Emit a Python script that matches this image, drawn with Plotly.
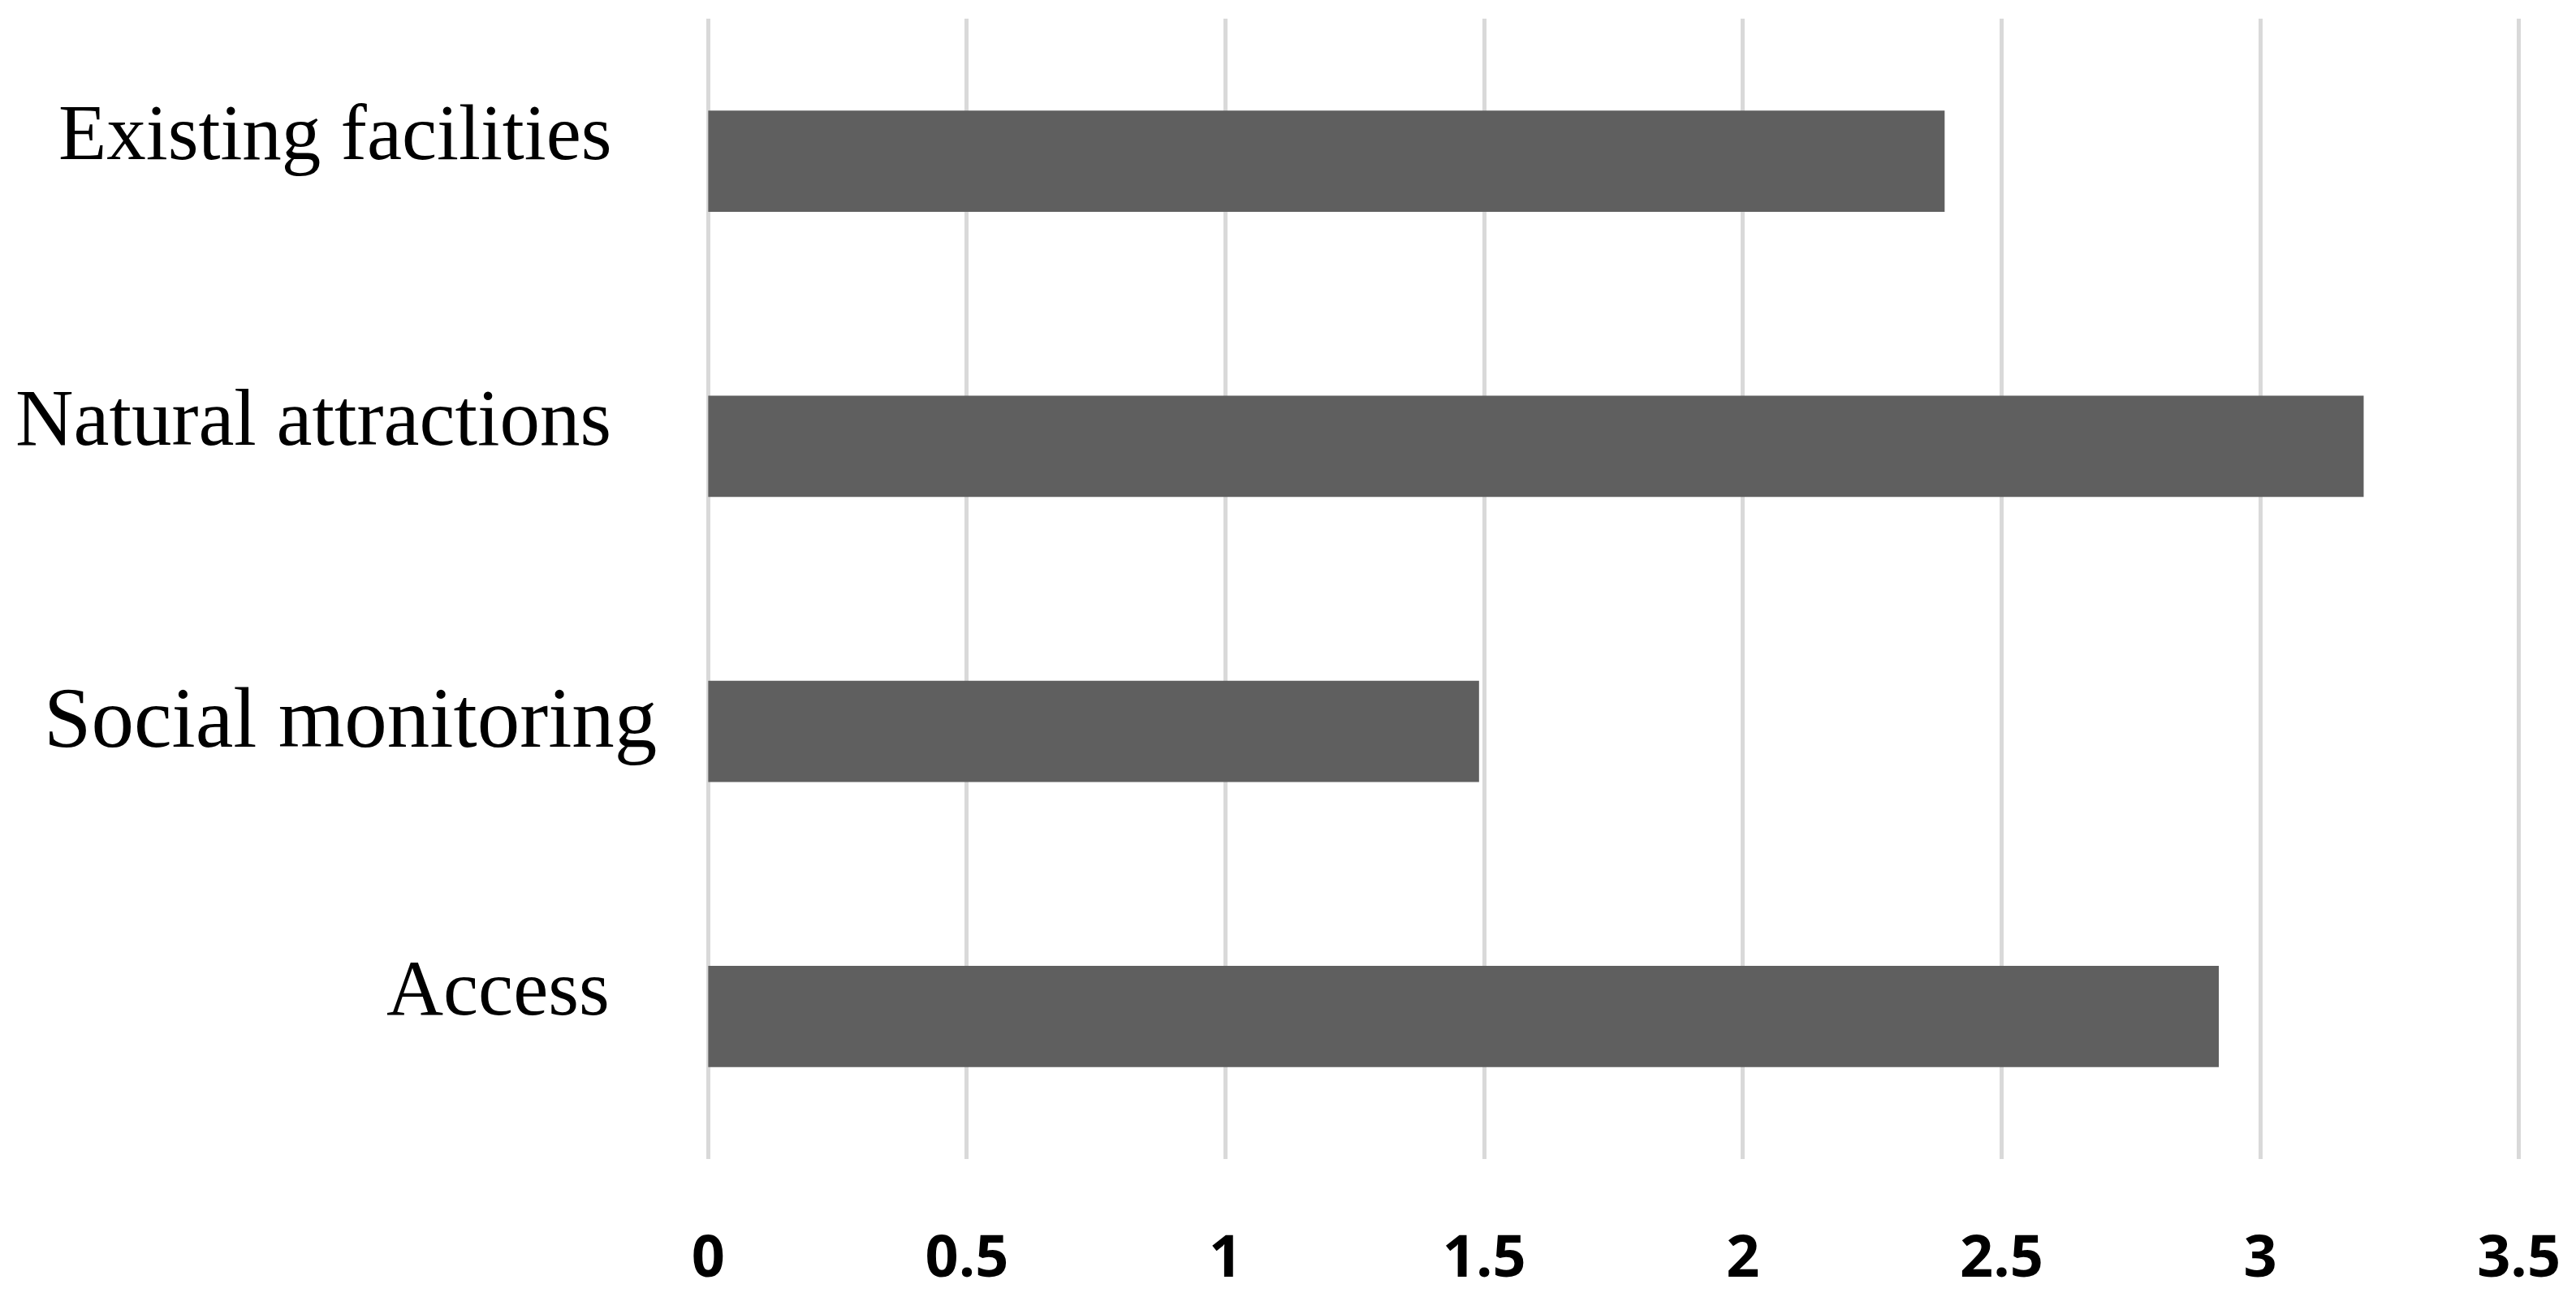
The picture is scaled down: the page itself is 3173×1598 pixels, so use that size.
import plotly.graph_objects as go

categories = ["Existing facilities", "Natural attractions", "Social monitoring", "Access"]
values = [2.39, 3.2, 1.49, 2.92]
tick_vals = [0, 0.5, 1, 1.5, 2, 2.5, 3, 3.5]
tick_text = ["0", "0.5", "1", "1.5", "2", "2.5", "3", "3.5"]

W, H = 3173, 1598

fig = go.Figure()
fig.add_trace(go.Bar(
    x=values, y=categories, orientation="h",
    marker=dict(color="#5f5f5f", line=dict(width=0)),
    showlegend=False,
))

# per-label style (size, horizontal shift, vertical shift)
label_style = {
    "Existing facilities": dict(size=97, xshift=-110, yshift=35),
    "Natural attractions": dict(size=99, xshift=-111, yshift=35),
    "Social monitoring": dict(size=105, xshift=-55, yshift=17),
    "Access": dict(size=97, xshift=-113, yshift=35),
}
for c in categories:
    s = label_style[c]
    fig.add_annotation(
        x=0, xref="paper", y=c, yref="y", text=c, showarrow=False,
        xanchor="right", yanchor="middle", xshift=s["xshift"], yshift=s["yshift"],
        font=dict(family="Liberation Serif", size=s["size"], color="black"),
    )

fig.update_layout(
    width=W, height=H,
    margin=dict(l=858, r=72, t=15, b=164),
    paper_bgcolor="white", plot_bgcolor="white",
    bargap=0.645,
    xaxis=dict(
        range=[-0.01, 3.51], tickvals=tick_vals, ticktext=tick_text,
        showgrid=True, gridcolor="#d9d9d9", gridwidth=5,
        zeroline=True, zerolinecolor="#d9d9d9", zerolinewidth=5,
        showline=False, ticks="", ticklabelstandoff=72,
        tickfont=dict(family="Open Sans", size=72, color="black", weight="bold"),
    ),
    yaxis=dict(
        categoryorder="array", categoryarray=categories, autorange="reversed",
        showticklabels=False, showgrid=False, zeroline=False, showline=False, ticks="",
    ),
)

fig.write_html("out.html")
